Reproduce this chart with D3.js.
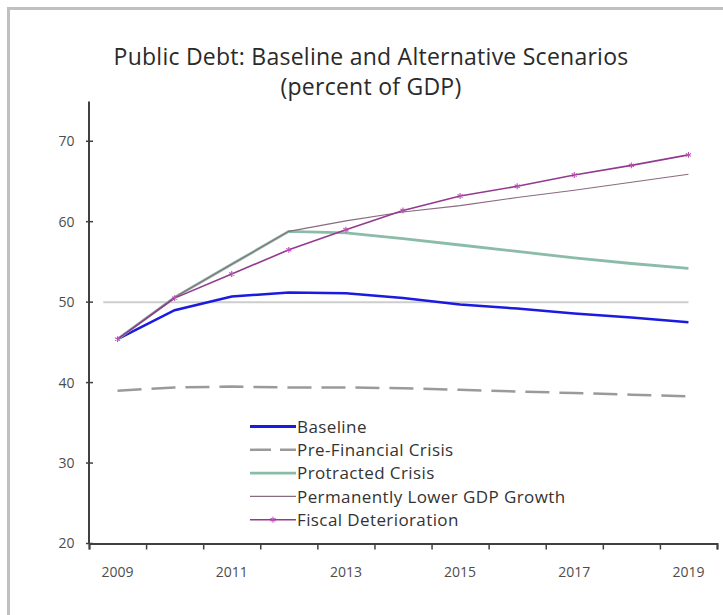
<!DOCTYPE html>
<html>
<head>
<meta charset="utf-8">
<script src="https://cdn.jsdelivr.net/npm/d3@7"></script>
<style>
  html, body { margin: 0; padding: 0; background: #fff; }
  svg { display: block; }
  text { font-family: "Open Sans", Lato, sans-serif; }
</style>
</head>
<body>
<script>
// ---- data ----
const years = ["2009","2010","2011","2012","2013","2014","2015","2016","2017","2018","2019"];
const xTickLabels = ["2009","2011","2013","2015","2017","2019"];
const yTicks = [20, 30, 40, 50, 60, 70];
const baseline   = [45.4, 49.0, 50.7, 51.2, 51.1, 50.5, 49.7, 49.2, 48.6, 48.1, 47.5];
const preCrisis  = [39.0, 39.4, 39.5, 39.4, 39.4, 39.3, 39.1, 38.9, 38.7, 38.5, 38.3];
const protracted = [45.4, 50.6, 54.7, 58.8, 58.6, 57.9, 57.1, 56.3, 55.5, 54.8, 54.2];
const lowerGDP   = [45.4, 50.6, 54.7, 58.8, 60.1, 61.2, 62.0, 63.0, 63.9, 64.9, 65.9];
const fiscal     = [45.4, 50.5, 53.5, 56.5, 59.0, 61.4, 63.2, 64.4, 65.8, 67.0, 68.3];
const referenceLevel = 50;
const seriesNames = ["Baseline","Pre-Financial Crisis","Protracted Crisis","Permanently Lower GDP Growth","Fiscal Deterioration"];
const titleLines = ["Public Debt: Baseline and Alternative Scenarios", "(percent of GDP)"];

const W = 723, H = 615;
const svg = d3.select("body").append("svg").attr("width", W).attr("height", H);

// frame
svg.append("rect").attr("x", 0).attr("y", 0).attr("width", W).attr("height", H).attr("fill", "#fff");
svg.append("path").attr("d", `M8.5,${H} V8.5 H${W}`).attr("fill", "none").attr("stroke", "#c0c0c0").attr("stroke-width", 3);

// scales
const x = d3.scaleBand().domain(years).range([89, 717]).padding(0);
const xc = d => x(d) + x.bandwidth() / 2;
const xIdx = d3.scaleLinear().domain([0, years.length]).range([89, 717]);
const y = d3.scaleLinear().domain([20, 75]).range([543.5, 101]);

// title
svg.append("text").attr("x", 371).attr("y", 65).attr("text-anchor", "middle")
  .attr("font-size", 23).attr("letter-spacing", 0.25).attr("fill", "#2a2a2a").text(titleLines[0]);
svg.append("text").attr("x", 371).attr("y", 95).attr("text-anchor", "middle")
  .attr("font-size", 23).attr("letter-spacing", 0.25).attr("fill", "#2a2a2a").text(titleLines[1]);

// reference line at 50
svg.append("line")
  .attr("x1", xc(years[0]) - x.bandwidth() / 4).attr("x2", xc(years[years.length - 1]))
  .attr("y1", y(referenceLevel)).attr("y2", y(referenceLevel))
  .attr("stroke", "#cdcdcd").attr("stroke-width", 2);

// y axis
const yAxis = svg.append("g").attr("transform", "translate(88.5,0)")
  .call(d3.axisLeft(y).tickValues(yTicks).tickSize(0).tickPadding(14).tickFormat(d3.format("d")));
yAxis.select(".domain").attr("stroke", "#404040").attr("stroke-width", 2);
yAxis.selectAll("text").attr("font-size", 14).attr("fill", "#4d4d4d").attr("font-family", "Lato, sans-serif");
svg.append("g").selectAll("line").data(yTicks).join("line")
  .attr("x1", 86).attr("x2", 93).attr("y1", d => y(d)).attr("y2", d => y(d))
  .attr("stroke", "#404040").attr("stroke-width", 1.5);

// x axis
const xAxisG = svg.append("g").attr("transform", `translate(0,${y(20)})`)
  .call(d3.axisBottom(xIdx).tickValues(d3.range(years.length + 1)).tickSize(6).tickFormat(""));
xAxisG.select(".domain").attr("stroke", "#404040").attr("stroke-width", 2);
xAxisG.selectAll(".tick line").attr("stroke", "#404040").attr("stroke-width", 1.5);
const xLab = svg.append("g").attr("transform", `translate(0,${y(20)})`)
  .call(d3.axisBottom(x).tickValues(xTickLabels).tickSize(0).tickPadding(24));
xLab.select(".domain").remove();
xLab.selectAll("text").attr("font-size", 14).attr("fill", "#4d4d4d").attr("font-family", "Lato, sans-serif");

// lines
const line = d3.line().x((d, i) => xc(years[i])).y(d => y(d));
const styles = [
  { data: preCrisis,  stroke: "#9a9a9a", width: 2.5, dash: "24,10" },
  { data: baseline,   stroke: "#1a1ae0", width: 2.5, dash: null },
  { data: protracted, stroke: "#8bbca8", width: 2.8, dash: null },
  { data: lowerGDP,   stroke: "#8a6a80", width: 1.1, dash: null },
  { data: fiscal,     stroke: "#933a8f", width: 1.6, dash: null }
];
styles.forEach(s => {
  svg.append("path").datum(s.data).attr("d", line)
    .attr("fill", "none").attr("stroke", s.stroke).attr("stroke-width", s.width)
    .attr("stroke-dasharray", s.dash);
});
const star = d3.symbol().type(d3.symbolAsterisk).size(24);
svg.append("g").selectAll("path").data(fiscal).join("path")
  .attr("transform", (d, i) => `translate(${xc(years[i])},${y(d)})`)
  .attr("d", star).attr("fill", "none").attr("stroke", "#c04cb8").attr("stroke-width", 1.1);

// legend
const legendStyles = [
  { stroke: "#1a1ae0", width: 2.8, dash: null, marker: false },
  { stroke: "#9a9a9a", width: 2.5, dash: "21,9", marker: false },
  { stroke: "#8bbca8", width: 2.8, dash: null, marker: false },
  { stroke: "#8a6a80", width: 1.1, dash: null, marker: false },
  { stroke: "#933a8f", width: 1.6, dash: null, marker: true }
];
const leg = svg.append("g");
seriesNames.forEach((name, i) => {
  const ly = 426.5 + i * 23.3;
  const st = legendStyles[i];
  leg.append("line").attr("x1", 250).attr("x2", 296).attr("y1", ly).attr("y2", ly)
    .attr("stroke", st.stroke).attr("stroke-width", st.width).attr("stroke-dasharray", st.dash);
  if (st.marker) {
    leg.append("path").attr("transform", `translate(273,${ly})`).attr("d", star)
      .attr("fill", "none").attr("stroke", "#c04cb8").attr("stroke-width", 1.1);
  }
  leg.append("text").attr("x", 297).attr("y", ly).attr("dy", "0.36em")
    .attr("font-size", 17).attr("letter-spacing", 0.4).attr("fill", "#333").text(name);
});
</script>
</body>
</html>
